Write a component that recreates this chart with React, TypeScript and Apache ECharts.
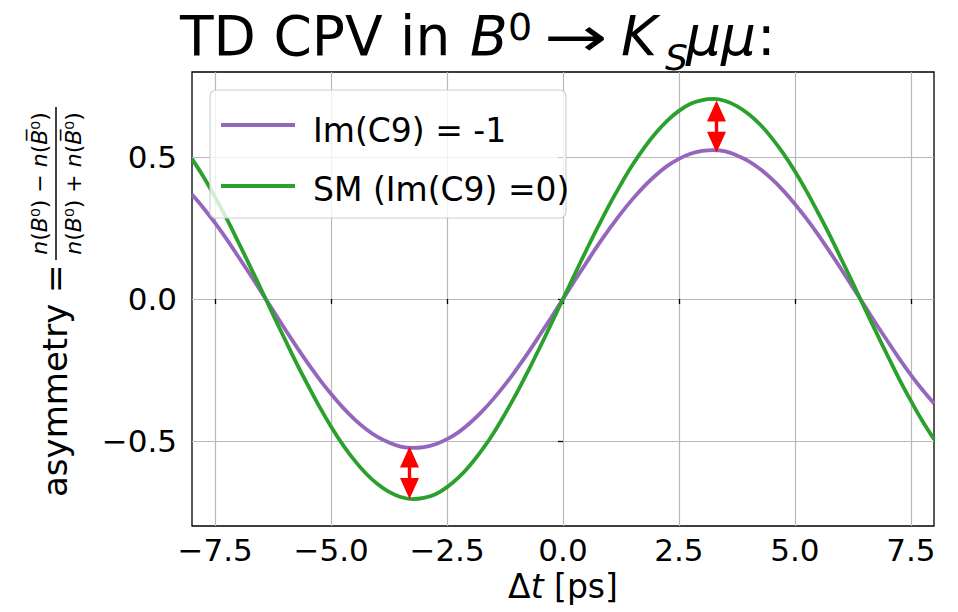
import React, { useEffect, useRef } from 'react';
import * as echarts from 'echarts';

// time difference in ps
const tValues = [-8, -7.75, -7.5, -7.25, -7, -6.75, -6.5, -6.25, -6, -5.75, -5.5, -5.25, -5, -4.75, -4.5, -4.25,
  -4, -3.75, -3.5, -3.25, -3, -2.75, -2.5, -2.25, -2, -1.75, -1.5, -1.25, -1, -0.75, -0.5, -0.25, 0,
  0.25, 0.5, 0.75, 1, 1.25, 1.5, 1.75, 2, 2.25, 2.5, 2.75, 3, 3.25, 3.5, 3.75, 4,
  4.25, 4.5, 4.75, 5, 5.25, 5.5, 5.75, 6, 6.25, 6.5, 6.75, 7, 7.25, 7.5, 7.75, 8];
// SM (Im(C9) = 0)
const smValues = [0.494, 0.430, 0.358, 0.282, 0.200, 0.116, 0.031, -0.056, -0.141, -0.225, -0.304, -0.380, -0.450, -0.513, -0.568, -0.615,
  -0.652, -0.680, -0.698, -0.705, -0.701, -0.688, -0.663, -0.629, -0.585, -0.533, -0.473, -0.405, -0.332, -0.253, -0.171, -0.086, 0,
  0.086, 0.171, 0.253, 0.332, 0.405, 0.473, 0.533, 0.585, 0.629, 0.663, 0.688, 0.701, 0.705, 0.698, 0.680, 0.652,
  0.615, 0.568, 0.513, 0.450, 0.380, 0.304, 0.225, 0.141, 0.056, -0.031, -0.116, -0.200, -0.282, -0.358, -0.430, -0.494];
// Im(C9) = -1
const c9Values = [0.368, 0.320, 0.267, 0.210, 0.149, 0.087, 0.023, -0.041, -0.105, -0.167, -0.227, -0.283, -0.335, -0.382, -0.423, -0.458,
  -0.486, -0.506, -0.520, -0.525, -0.522, -0.512, -0.494, -0.469, -0.436, -0.397, -0.352, -0.302, -0.247, -0.189, -0.127, -0.064, 0,
  0.064, 0.127, 0.189, 0.247, 0.302, 0.352, 0.397, 0.436, 0.469, 0.494, 0.512, 0.522, 0.525, 0.520, 0.506, 0.486,
  0.458, 0.423, 0.382, 0.335, 0.283, 0.227, 0.167, 0.105, 0.041, -0.023, -0.087, -0.149, -0.210, -0.267, -0.320, -0.368];

const xTicks = [-7.5, -5, -2.5, 0, 2.5, 5, 7.5];
const yTicks = [-0.5, 0, 0.5];

// red double arrows between the extrema
const arrowX = [-3.31, 3.31];
const arrowFrom = [-0.705, 0.70];
const arrowTo = [-0.52, 0.515];

const legendLabels = ['Im(C9) = -1', 'SM (Im(C9) =0)'];
const seriesColors = ['#9467bd', '#2ca02c'];

const FONT = 'DejaVu Sans';
const fmt = (v: number) => (v < 0 ? '\u2212' : '') + Math.abs(v).toFixed(1);

function txt(text: string, x: number, y: number, size: number, opts: any = {}) {
  return {
    type: 'text',
    z: 100,
    x, y,
    scaleX: opts.scaleX || 1,
    style: {
      text,
      fontSize: size,
      fontFamily: FONT,
      fontStyle: opts.italic ? 'italic' : 'normal',
      fill: '#000',
      align: opts.align || 'left',
      verticalAlign: 'middle',
      textAlign: opts.align || 'left',
      textVerticalAlign: 'middle',
      rich: opts.rich,
    },
  };
}

export default function App() {
  const ref = useRef<HTMLDivElement>(null);
  useEffect(() => {
    if (!ref.current) return;
    const chart = echarts.init(ref.current, null, { renderer: 'svg' });

    const richFrac = {
      i: { fontStyle: 'italic', fontSize: 22, fontFamily: FONT, fill: '#000' },
      n: { fontStyle: 'normal', fontSize: 22, fontFamily: FONT, fill: '#000' },
    };

    const titleBase = 36; // middle y for 55px text, baseline ~55
    const graphic: any[] = [
      // title
      txt('TD CPV in', 180, titleBase, 55),
      txt('B', 470, titleBase, 55, { italic: true }),
      txt('0', 508, 27, 38),
      txt('\u2192', 544, titleBase + 1, 55, { scaleX: 1.38 }),
      txt('K', 621, titleBase, 55, { italic: true }),
      txt('S', 665, 57, 36, { italic: true }),
      txt('\u03bc\u03bc', 686, titleBase, 55, { italic: true }),
      txt(':', 757, titleBase, 55),
      // legend box
      {
        type: 'rect', z: 90,
        shape: { x: 210, y: 90, width: 356, height: 128, r: 6 },
        style: { fill: 'rgba(255,255,255,0.8)', stroke: '#d0d0d0', lineWidth: 1.2 },
      },
      { type: 'line', z: 95, shape: { x1: 221, y1: 125, x2: 295, y2: 125 }, style: { stroke: seriesColors[0], lineWidth: 4 } },
      { type: 'line', z: 95, shape: { x1: 221, y1: 186, x2: 295, y2: 186 }, style: { stroke: seriesColors[1], lineWidth: 4 } },
      txt(legendLabels[0], 313, 130, 33),
      txt(legendLabels[1], 313, 189, 33),
      // y label (rotated)
      {
        type: 'group', x: 57, y: 299, rotation: Math.PI / 2, z: 100,
        children: [
          txt('asymmetry =', -198, -2, 34),
          { type: 'line', z: 100, shape: { x1: 39, y1: -1, x2: 192, y2: -1 }, style: { stroke: '#000', lineWidth: 1.5 } },
          txt('{i|n}({i|B}\u2070) \u2212 {i|n}({i|B\u0305}\u2070)', 115.5, -18, 22, { align: 'center', rich: richFrac }),
          txt('{i|n}({i|B}\u2070) + {i|n}({i|B\u0305}\u2070)', 115.5, 16, 22, { align: 'center', rich: richFrac }),
        ],
      },
    ];

    const option: any = {
      animation: false,
      backgroundColor: '#fff',
      grid: { left: 192, right: 24, top: 72, bottom: 86, show: true, borderColor: '#000', borderWidth: 1.3, backgroundColor: 'transparent' },
      xAxis: {
        type: 'value', min: -8, max: 8,
        name: '{a|\u0394}{b|t}{a| [ps]}',
        nameLocation: 'middle', nameGap: 42,
        nameTextStyle: {
          rich: {
            a: { fontSize: 33, fontFamily: FONT, color: '#000' },
            b: { fontSize: 33, fontFamily: FONT, fontStyle: 'italic', color: '#000' },
          },
        },
        axisLine: { show: false },
        axisTick: { show: true, customValues: xTicks, length: 5, lineStyle: { color: '#000', width: 1.3 } },
        axisLabel: { customValues: xTicks, formatter: fmt, fontSize: 31, fontFamily: FONT, color: '#000', margin: 8 },
        splitLine: { show: true, lineStyle: { color: '#b8b8b8', width: 1.2 } },
      },
      yAxis: {
        type: 'value', min: -0.8, max: 0.8,
        axisLine: { show: false },
        axisTick: { show: true, customValues: yTicks, length: 5, lineStyle: { color: '#000', width: 1.3 } },
        axisLabel: { customValues: yTicks, formatter: fmt, fontSize: 31, fontFamily: FONT, color: '#000', margin: 15 },
        splitLine: { show: true, lineStyle: { color: '#b8b8b8', width: 1.2 } },
      },
      series: [
        {
          type: 'line', name: legendLabels[0],
          data: tValues.map((t, i) => [t, c9Values[i]]),
          smooth: 0.4, showSymbol: false, symbol: 'none',
          lineStyle: { color: seriesColors[0], width: 3.8 }, z: 3,
        },
        {
          type: 'line', name: legendLabels[1],
          data: tValues.map((t, i) => [t, smValues[i]]),
          smooth: 0.4, showSymbol: false, symbol: 'none',
          lineStyle: { color: seriesColors[1], width: 3.8 }, z: 4,
        },
        {
          type: 'custom', z: 6,
          data: arrowX.map((x, i) => [x, arrowFrom[i], arrowTo[i]]),
          encode: { x: 0, y: [1, 2] },
          renderItem: (params: any, api: any) => {
            const p1 = api.coord([api.value(0), api.value(1)]);
            const p2 = api.coord([api.value(0), api.value(2)]);
            const dx = p2[0] - p1[0], dy = p2[1] - p1[1];
            const L = Math.hypot(dx, dy) || 1;
            const ux = dx / L, uy = dy / L, nx = -uy, ny = ux;
            const hl = 21, hw = 9.5, sw = 1.7;
            const P = (base: number[], a: number, b: number) => [base[0] + ux * a + nx * b, base[1] + uy * a + ny * b];
            const points = [
              p1,
              P(p1, hl, hw), P(p1, hl, sw), P(p2, -hl, sw), P(p2, -hl, hw),
              p2,
              P(p2, -hl, -hw), P(p2, -hl, -sw), P(p1, hl, -sw), P(p1, hl, -hw),
            ];
            return { type: 'polygon', shape: { points }, style: { fill: '#ff0000' } };
          },
        },
      ],
      graphic,
    };
    chart.setOption(option);
    return () => chart.dispose();
  }, []);
  return <div ref={ref} style={{ position: 'fixed', left: 0, top: 0, width: 958, height: 612 }} />;
}
